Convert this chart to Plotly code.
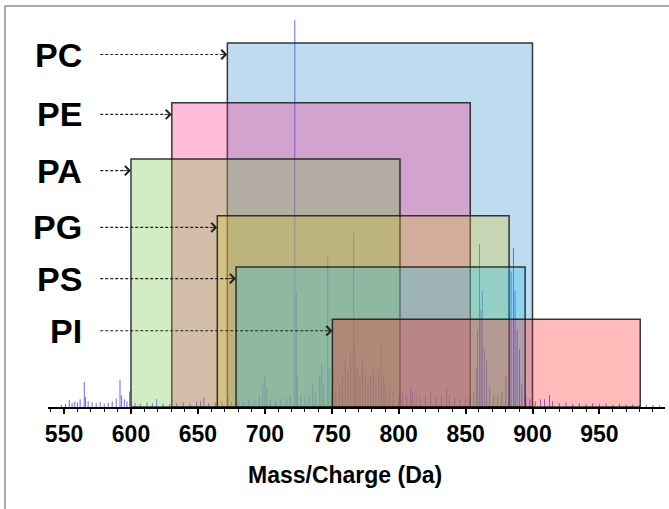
import plotly.graph_objects as go

# ---------------- data ----------------
lipids = ["PC", "PE", "PA", "PG", "PS", "PI"]
mz_low = [672.0, 630.5, 600.0, 664.5, 678.5, 750.5]
mz_high = [900.0, 853.5, 801.0, 882.5, 894.5, 980.5]
box_top = [94.1, 78.6, 64.1, 49.4, 36.2, 22.7]
box_rgb = [(42, 135, 205), (255, 32, 128), (105, 195, 58),
           (215, 200, 40), (33, 195, 238), (255, 28, 28)]

tick_vals = [550, 600, 650, 700, 750, 800, 850, 900, 950]
tick_text = ["550", "600", "650", "700", "750", "800", "850", "900", "950"]

peak_mz = [548, 551, 553.9, 556, 558, 560, 562, 565.1, 566, 568, 571, 574, 577, 580, 583,
           586, 589, 591.8, 593, 595, 597, 599,
           603, 607, 612, 616, 619.2, 624, 629, 634, 639, 644, 649, 652, 654.5, 658, 663,
           668, 672.4, 675, 680, 684, 688, 692, 696, 698.5, 700, 701.5, 704, 708, 712, 716, 719,
           722.4, 723.5, 724.5, 727, 730, 733, 735.8, 738, 741, 742.5, 744, 747, 748, 750,
           753, 756, 758, 760, 762, 764, 766.4, 767.5, 769, 771, 773, 775, 777, 779, 781,
           783, 785, 787, 788.5, 790, 793, 796,
           800, 803, 806, 809, 810.4, 813, 816, 820, 824, 828, 832, 835.8, 838, 842, 846,
           850, 853, 856, 858, 859, 860.4, 861.5, 862.5, 864, 865.7, 868, 871, 874, 877,
           880, 882.8, 884, 885.8, 887, 888.5, 890.3, 892, 895, 898,
           902, 906, 909, 912.7, 915, 920, 925, 930, 935, 940, 945, 950, 955, 960, 965,
           970, 975, 980, 985, 990, 995]
peak_int = [0.6, 0.8, 1.8, 1.0, 1.4, 1.2, 2.0, 6.5, 2.5, 1.5, 1.2, 1.0, 1.3, 0.9, 1.1,
            1.4, 2.2, 7.0, 3.0, 2.0, 1.5, 4.0,
            1.0, 0.8, 1.2, 1.0, 2.0, 1.0, 0.8, 1.0, 1.2, 0.9, 1.4, 1.6, 2.5, 1.0, 1.2,
            1.5, 3.0, 1.2, 1.5, 1.3, 2.0, 1.6, 3.0, 6.0, 8.3, 5.0, 2.0, 1.5, 2.0, 2.5, 3.0,
            100, 30, 8, 3, 2.5, 3, 6.2, 4, 8, 10.9, 6, 38.8, 10, 5,
            4, 6, 8, 12, 9, 14, 45, 15, 10, 8, 12, 9, 6, 8, 10,
            7, 9, 15.5, 8, 6, 5, 4,
            3, 4, 3, 5, 3.9, 3, 2.5, 3, 4, 3, 3, 4.9, 3, 2.5, 2,
            2, 2.5, 4, 10, 20, 42, 25, 30, 15, 12, 5, 3, 3, 4,
            8, 25, 35, 41, 30, 20, 15, 6, 3, 2,
            1.5, 2, 2, 3.1, 1.5, 1, 1.2, 0.8, 1, 0.8, 1, 0.7, 0.9, 0.6, 0.8,
            0.6, 0.7, 0.5, 0.6, 0.5, 0.5]

# ---------------- figure ----------------
ALPHA = 0.3
ARROW_START = 577.0
ARROW_DROP = 3.0
FONT = "Liberation Sans, Arial, sans-serif"

stick_x, stick_y = [], []
for m, h in zip(peak_mz, peak_int):
    stick_x += [m, m, None]
    stick_y += [0, h, None]

fig = go.Figure()
fig.add_trace(go.Scatter(x=stick_x, y=stick_y, mode="lines",
                         line=dict(color="rgb(40,40,255)", width=1), opacity=0.7,
                         hoverinfo="skip", showlegend=False))

shapes = []
annotations = []
for name, lo, hi, top, rgb in zip(lipids, mz_low, mz_high, box_top, box_rgb):
    shapes.append(dict(type="rect", xref="x", yref="y", x0=lo, x1=hi, y0=0, y1=top,
                       fillcolor="rgba(%d,%d,%d,%.2f)" % (rgb + (ALPHA,)),
                       line=dict(color="rgba(25,25,25,0.85)", width=1.5), layer="above"))
    ya = top - ARROW_DROP
    shapes.append(dict(type="line", xref="x", yref="y", x0=ARROW_START, x1=lo - 5,
                       y0=ya, y1=ya, line=dict(color="#222222", width=1.2, dash="3px,2px"),
                       layer="above"))
    annotations.append(dict(x=lo, y=ya, xref="x", yref="y", ax=-9, ay=0,
                            text="", showarrow=True, standoff=0,
                            arrowhead=4, arrowsize=2.0, arrowwidth=0.9, arrowcolor="#222222"))
    annotations.append(dict(x=0.0583, y=ya, xref="paper", yref="y", text="<b>%s</b>" % name,
                            xanchor="right", yanchor="middle", showarrow=False,
                            font=dict(family=FONT, size=34, color="black")))

annotations.append(dict(x=0.481, y=-0.172, xref="paper", yref="paper",
                        text="<b>Mass/Charge (Da)</b>", showarrow=False,
                        xanchor="center", yanchor="middle",
                        font=dict(family=FONT, size=23, color="black")))

# outer frame
shapes.append(dict(type="rect", xref="paper", yref="paper", x0=-0.0697, x1=1.2,
                   y0=-0.5, y1=1.0101, line=dict(color="#555555", width=1),
                   fillcolor="rgba(0,0,0,0)", layer="below"))

fig.update_layout(
    width=669, height=509,
    margin=dict(l=48, r=4, t=10, b=102),
    paper_bgcolor="white", plot_bgcolor="white",
    shapes=shapes, annotations=annotations,
    showlegend=False,
    xaxis=dict(range=[538, 999], tickmode="array", tickvals=tick_vals, ticktext=tick_text,
               ticks="outside", ticklen=5, tickwidth=1.5, tickcolor="black",
               showline=True, linecolor="black", linewidth=2, showgrid=False, zeroline=False,
               tickfont=dict(family=FONT, size=23, color="black", weight="bold"),
               minor=dict(dtick=10, ticks="outside", ticklen=3, tickcolor="black", tickwidth=1),
               fixedrange=True),
    yaxis=dict(range=[0, 102.6], visible=False, fixedrange=True),
)

fig.write_html("out.html")
